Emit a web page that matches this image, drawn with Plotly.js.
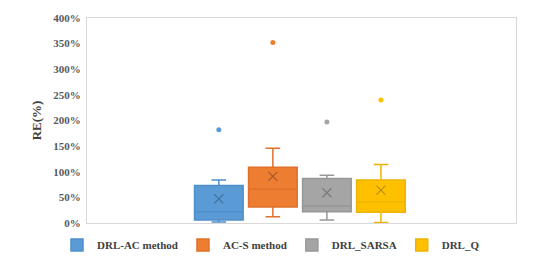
<!DOCTYPE html>
<html>
<head>
<meta charset="utf-8">
<script src="https://cdn.plot.ly/plotly-3.0.1.min.js"></script>
<style>html,body{margin:0;padding:0;background:#fff;}#chart{width:542px;height:260px;}</style>
</head>
<body>
<div id="chart"></div>
<script>
// Series names (legend)
const seriesNames = ["DRL-AC method", "AC-S method", "DRL_SARSA", "DRL_Q"];
// Box statistics, RE in %
const lowerWhisker = [2, 12, 6, 1];
const q1Values     = [6, 31, 22, 21];
const medianValues = [22, 66, 33, 41];
const q3Values     = [73, 109, 87, 84];
const upperWhisker = [84, 146, 93, 114];
const meanValues   = [47, 91, 59, 64];
const outlierValues = [182, 352, 197, 240];
// y axis ticks
const yTicks = [0, 50, 100, 150, 200, 250, 300, 350, 400];
const yTickText = yTicks.map(v => v + "%");

const fillColors = ["#5B9BD5", "#ED7D31", "#A5A5A5", "#FFC000"];
const lineColors = ["#4E8FCB", "#E0702A", "#979797", "#EDB300"];
const meanColors = ["#3E6E9C", "#A8582A", "#7A7A7A", "#B89020"];

const serif = "Liberation Serif";
const traces = [];
seriesNames.forEach((name, i) => {
  traces.push({
    type: "box",
    name: name,
    x: [name],
    q1: [q1Values[i]],
    median: [medianValues[i]],
    q3: [q3Values[i]],
    lowerfence: [lowerWhisker[i]],
    upperfence: [upperWhisker[i]],
    boxpoints: false,
    width: 0.9,
    whiskerwidth: 0.3,
    fillcolor: fillColors[i],
    line: {color: lineColors[i], width: 1.5},
    showlegend: true,
    hoverinfo: "skip"
  });
});
seriesNames.forEach((name, i) => {
  traces.push({
    type: "scatter", mode: "markers", x: [name], y: [meanValues[i]],
    marker: {symbol: "x-thin", size: 9, line: {color: meanColors[i], width: 1.2}},
    showlegend: false, hoverinfo: "skip"
  });
  traces.push({
    type: "scatter", mode: "markers", x: [name], y: [outlierValues[i]],
    marker: {symbol: "circle", size: 5, color: fillColors[i]},
    showlegend: false, hoverinfo: "skip"
  });
});

const layout = {
  width: 542, height: 260,
  margin: {l: 87, r: 26, t: 18, b: 37},
  paper_bgcolor: "#ffffff", plot_bgcolor: "#ffffff",
  showlegend: true,
  xaxis: {
    type: "category", categoryorder: "array", categoryarray: seriesNames,
    range: [-2.44, 5.5], showticklabels: false, showgrid: false, zeroline: false,
    showline: true, mirror: true, linecolor: "#d9d9d9", linewidth: 1, ticks: ""
  },
  yaxis: {
    range: [0, 400], tickmode: "array", tickvals: yTicks, ticktext: yTickText,
    showgrid: false, zeroline: false,
    showline: true, mirror: true, linecolor: "#d9d9d9", linewidth: 1,
    ticks: "outside", ticklen: 3, tickcolor: "rgba(0,0,0,0)",
    tickfont: {family: serif, size: 11, color: "#595959", weight: "bold"},
    title: {text: "RE(%)", standoff: 8, font: {family: serif, size: 13, color: "#404040", weight: "bold"}}
  },
  legend: {
    orientation: "h", xref: "container", yref: "container",
    x: 0.5, xanchor: "center", y: 0.058, yanchor: "middle",
    font: {family: serif, size: 11, color: "#404040", weight: "bold"},
    itemwidth: 30, bgcolor: "rgba(0,0,0,0)"
  }
};
Plotly.newPlot("chart", traces, layout, {staticPlot: true, displayModeBar: false});
</script>
</body>
</html>
